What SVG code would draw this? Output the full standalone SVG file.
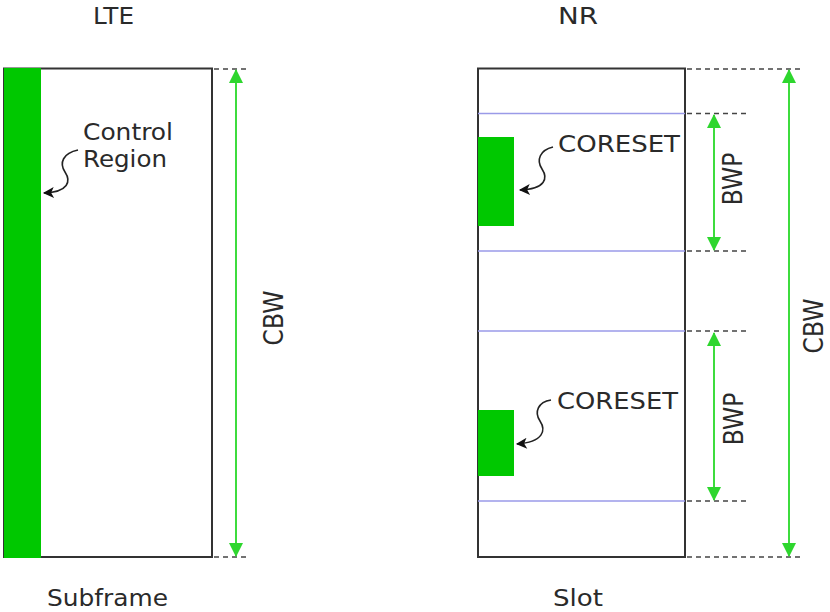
<svg xmlns="http://www.w3.org/2000/svg" width="830" height="612" viewBox="0 0 830 612">
<style>
text{font-family:"DejaVu Sans","Liberation Sans",sans-serif;font-size:23.5px;fill:#2a2a2a}
.frame{fill:none;stroke:#333;stroke-width:2}
.green{fill:#00c800}
.blue{stroke:#9a9ae8;stroke-width:1.5}
.dash{stroke:#444;stroke-width:1.5;stroke-dasharray:5 4;fill:none}
.garrow{stroke:#3ddc3d;stroke-width:2;fill:none;marker-start:url(#gh);marker-end:url(#gh)}
.curl{stroke:#222;stroke-width:1.6;fill:none;marker-end:url(#bh)}
</style>
<defs>
<marker id="gh" viewBox="0 0 14 14" refX="13" refY="7" markerWidth="14" markerHeight="14" markerUnits="userSpaceOnUse" orient="auto-start-reverse">
<path d="M0,0 L14,7 L0,14 Z" fill="#2ed62e"/>
</marker>
<marker id="bh" viewBox="0 0 10 10" refX="9" refY="5" markerWidth="12" markerHeight="11" markerUnits="userSpaceOnUse" orient="auto">
<path d="M0,0 L10,5 L0,10 L2.5,5 Z" fill="#111"/>
</marker>
</defs>

<g id="lte">
<rect class="frame" x="4" y="68.5" width="208" height="488.5"/>
<rect class="green" x="4" y="68" width="37" height="490"/>
<text x="93" y="24" textLength="41" lengthAdjust="spacingAndGlyphs">LTE</text>
<text x="47" y="606" textLength="121" lengthAdjust="spacingAndGlyphs">Subframe</text>
</g>

<g id="control-region">
<text x="83" y="139.5" textLength="90" lengthAdjust="spacingAndGlyphs">Control</text>
<text x="83" y="167" textLength="84" lengthAdjust="spacingAndGlyphs">Region</text>
</g>

<g id="lte-cbw">
<text transform="translate(283,318) rotate(-90) scale(1,1.12)" text-anchor="middle">CBW</text>
</g>

<g id="nr">
<rect class="frame" x="478" y="68.5" width="207" height="488.5"/>
<line class="blue" x1="478" y1="113.5" x2="685" y2="113.5"/>
<line class="blue" x1="478" y1="251" x2="685" y2="251"/>
<line class="blue" x1="478" y1="331" x2="685" y2="331"/>
<line class="blue" x1="478" y1="501" x2="685" y2="501"/>
<text x="558" y="24" textLength="40" lengthAdjust="spacingAndGlyphs">NR</text>
<text x="553" y="606" textLength="50" lengthAdjust="spacingAndGlyphs">Slot</text>
</g>

<g id="coreset-1">
<rect class="green" x="478" y="137" width="36" height="89"/>
<text x="558" y="152" textLength="122" lengthAdjust="spacingAndGlyphs">CORESET</text>
</g>

<g id="coreset-2">
<rect class="green" x="478" y="410" width="36" height="66"/>
<text x="557" y="409" textLength="121" lengthAdjust="spacingAndGlyphs">CORESET</text>
</g>

<g id="bwp-1">
<text transform="translate(742,179) rotate(-90) scale(1,1.12)" text-anchor="middle">BWP</text>
</g>
<g id="bwp-2">
<text transform="translate(743,419) rotate(-90) scale(1,1.12)" text-anchor="middle">BWP</text>
</g>
<g id="nr-cbw">
<text transform="translate(823,326) rotate(-90) scale(1,1.1)" text-anchor="middle">CBW</text>
</g>

<g id="connectors">
<path class="dash" d="M214,69 H250 M214,557 H250"/>
<path class="dash" d="M687,69 H802 M687,557 H802 M687,113.5 H749 M687,251 H749 M687,331 H749 M687,501 H749"/>
<line class="garrow" x1="236" y1="70" x2="236" y2="556"/>
<line class="garrow" x1="789" y1="70" x2="789" y2="556"/>
<line class="garrow" x1="714" y1="115" x2="714" y2="250"/>
<line class="garrow" x1="714" y1="333" x2="714" y2="500"/>
<path class="curl" d="M78,150 C63,153 59,163 65,172 C71,181 69,192 44,193"/>
<path class="curl" d="M553,147 C540,150 536,160 542,169 C548,178 546,189 520,190"/>
<path class="curl" d="M551,400 C538,402 534,412 540,421 C546,430 544,442 517,444"/>
</g>
</svg>
